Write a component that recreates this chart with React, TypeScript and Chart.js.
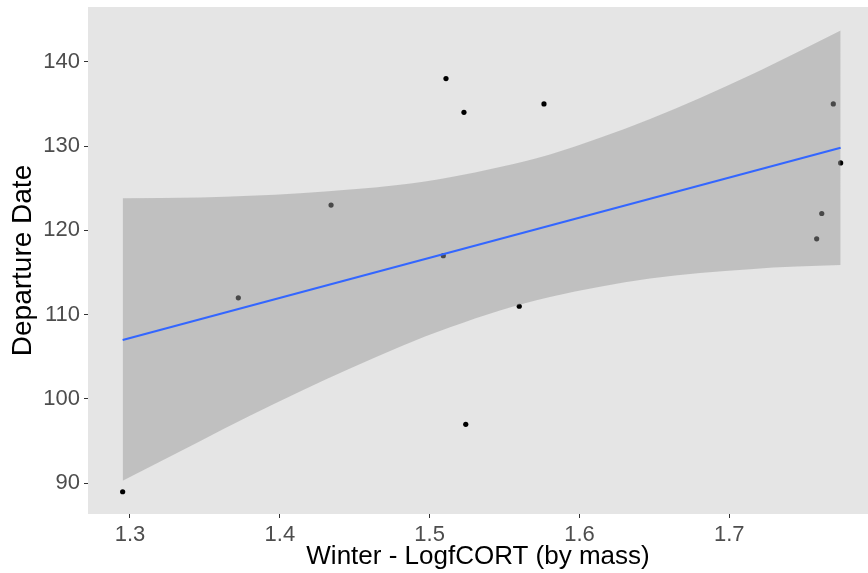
import { useEffect, useRef } from "react";
import { Chart, registerables } from "chart.js";

Chart.register(...registerables);

// Observations
const pointX = [1.2951, 1.3723, 1.4342, 1.5109, 1.5229, 1.5091, 1.5241, 1.5598, 1.5763, 1.7694, 1.7743, 1.7617, 1.7583];
const pointY = [89, 112, 123, 138, 134, 117, 97, 111, 135, 135, 128, 122, 119];

// Fitted line
const fitX = [1.2951, 1.7743];
const fitY = [107.0, 129.8];

// Confidence band
const bandX = [1.2951, 1.3467, 1.38, 1.4135, 1.4802, 1.5136, 1.5469, 1.5803, 1.6471, 1.7138, 1.745, 1.7743];
const bandUpper = [123.8, 123.9, 124.1, 124.4, 125.4, 126.3, 127.5, 129.0, 133.2, 138.4, 141.1, 143.7];
const bandLower = [90.3, 95.0, 98.0, 100.9, 106.2, 108.5, 110.5, 112.1, 114.3, 115.4, 115.7, 115.9];

const xTicks = [1.3, 1.4, 1.5, 1.6, 1.7];
const yTicks = [90, 100, 110, 120, 130, 140];
const xMin = 1.27197;
const xMax = 1.79256;
const yMin = 86.36;
const yMax = 146.49;

const xLabel = "Winter - LogfCORT (by mass)";
const yLabel = "Departure Date";

const FONT = "'Liberation Sans', Arial, Helvetica, sans-serif";

const panelBg = {
  id: "panelBg",
  beforeDraw(chart: any) {
    const { ctx, chartArea } = chart;
    if (!chartArea) return;
    ctx.save();
    ctx.fillStyle = "#E5E5E5";
    ctx.fillRect(chartArea.left, chartArea.top, chartArea.right - chartArea.left, chartArea.bottom - chartArea.top);
    ctx.restore();
  },
};

export default function App() {
  const ref = useRef<HTMLCanvasElement | null>(null);

  useEffect(() => {
    if (!ref.current) return;
    const zip = (xs: number[], ys: number[]) => xs.map((x, i) => ({ x, y: ys[i] }));
    const chart = new Chart(ref.current, {
      type: "scatter",
      data: {
        datasets: [
          {
            label: "lower",
            data: zip(bandX, bandLower),
            showLine: true,
            borderColor: "transparent",
            borderWidth: 0,
            pointRadius: 0,
            fill: false,
            cubicInterpolationMode: "monotone",
            order: 2,
          } as any,
          {
            label: "upper",
            data: zip(bandX, bandUpper),
            showLine: true,
            borderColor: "transparent",
            borderWidth: 0,
            pointRadius: 0,
            fill: "-1",
            backgroundColor: "rgba(153,153,153,0.48)",
            cubicInterpolationMode: "monotone",
            order: 2,
          } as any,
          {
            label: "fit",
            data: zip(fitX, fitY),
            showLine: true,
            borderColor: "#3366FF",
            borderWidth: 2.2,
            pointRadius: 0,
            fill: false,
            order: 0,
          } as any,
          {
            label: "points",
            data: zip(pointX, pointY),
            showLine: false,
            backgroundColor: "#000000",
            borderColor: "#000000",
            borderWidth: 0,
            pointRadius: 2.6,
            order: 3,
          } as any,
        ],
      },
      options: {
        animation: false,
        responsive: false,
        maintainAspectRatio: false,
        devicePixelRatio: 1,
        layout: { autoPadding: false, padding: { top: 7, right: 0, left: 0, bottom: 0 } },
        plugins: {
          legend: { display: false },
          tooltip: { enabled: false },
        },
        scales: {
          x: {
            type: "linear",
            min: xMin,
            max: xMax,
            afterBuildTicks: (scale: any) => {
              scale.ticks = xTicks.map((v) => ({ value: v }));
            },
            afterFit: (scale: any) => {
              scale.height = 59;
              scale.paddingLeft = 0;
              scale.paddingRight = 0;
            },
            ticks: {
              autoSkip: false,
              maxRotation: 0,
              padding: 4,
              color: "#4D4D4D",
              font: { family: FONT, size: 22 },
              callback: (v: any) => Number(v).toFixed(1),
            },
            grid: {
              drawOnChartArea: false,
              drawTicks: true,
              tickLength: 4,
              color: "#333333",
              tickColor: "#333333",
            },
            border: { display: false },
            title: {
              display: true,
              text: xLabel,
              color: "#000000",
              font: { family: FONT, size: 26, lineHeight: 1 },
              padding: { top: 0, bottom: 3 },
            },
          },
          y: {
            type: "linear",
            min: yMin,
            max: yMax,
            afterBuildTicks: (scale: any) => {
              scale.ticks = yTicks.map((v) => ({ value: v }));
            },
            afterFit: (scale: any) => {
              scale.width = 88;
              scale.paddingTop = 0;
              scale.paddingBottom = 0;
            },
            ticks: {
              autoSkip: false,
              padding: 4,
              color: "#4D4D4D",
              font: { family: FONT, size: 22 },
              callback: (v: any) => String(v),
            },
            grid: {
              drawOnChartArea: false,
              drawTicks: true,
              tickLength: 4,
              color: "#333333",
              tickColor: "#333333",
            },
            border: { display: false },
            title: {
              display: true,
              text: yLabel,
              color: "#000000",
              font: { family: FONT, size: 28, lineHeight: 1 },
              padding: { top: 9, bottom: 0 },
            },
          },
        },
      },
      plugins: [panelBg],
    });
    return () => chart.destroy();
  }, []);

  return (
    <div style={{ position: "fixed", left: 0, top: 0, width: 868, height: 573, background: "#FFFFFF" }}>
      <canvas ref={ref} width={868} height={573} style={{ display: "block", width: 868, height: 573 }} />
    </div>
  );
}
